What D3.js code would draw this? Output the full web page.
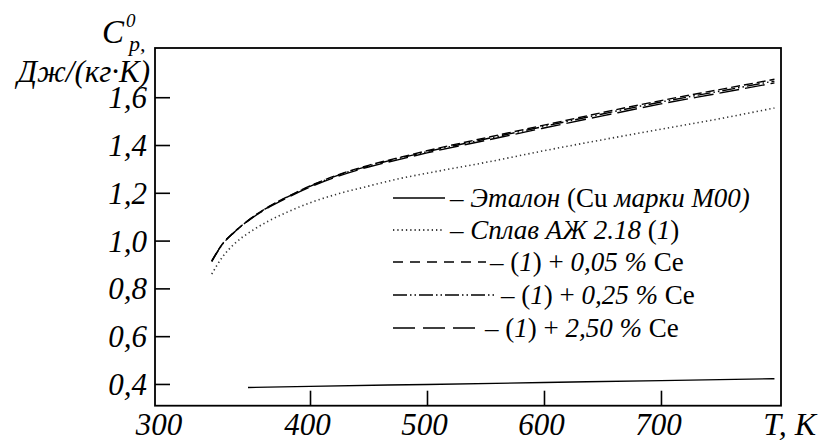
<!DOCTYPE html>
<html>
<head>
<meta charset="utf-8">
<script src="https://cdn.jsdelivr.net/npm/d3@7"></script>
<style>
  body { margin: 0; background: #fff; }
  svg text { font-family: "Liberation Serif", Tinos, "Times New Roman", serif; fill: #000; }
</style>
</head>
<body>
<svg id="chart" width="818" height="440"></svg>
<script>
// temperatures, K
const temps = [316, 325, 335, 350, 365, 380, 400, 425, 450, 475, 500, 550, 600, 650, 700, 750, 797];
// specific heat, J/(kg K)
const alloyBase = [0.860, 0.930, 0.985, 1.040, 1.083, 1.118, 1.158, 1.197, 1.228, 1.258, 1.282, 1.327, 1.376, 1.422, 1.466, 1.510, 1.555];
const alloyCe005 = [0.915, 0.985, 1.035, 1.095, 1.143, 1.182, 1.229, 1.277, 1.315, 1.346, 1.376, 1.430, 1.483, 1.536, 1.586, 1.632, 1.675];
const alloyCe025 = [0.912, 0.983, 1.034, 1.094, 1.142, 1.181, 1.227, 1.275, 1.312, 1.343, 1.372, 1.425, 1.478, 1.530, 1.580, 1.625, 1.668];
const alloyCe250 = [0.914, 0.984, 1.034, 1.093, 1.140, 1.178, 1.224, 1.271, 1.308, 1.338, 1.367, 1.419, 1.471, 1.522, 1.572, 1.617, 1.660];
const cuTemps = [347, 400, 500, 600, 700, 797];
const cuRef = [0.385, 0.390, 0.398, 0.406, 0.414, 0.422];

const yTicks = [0.4, 0.6, 0.8, 1.0, 1.2, 1.4, 1.6];
const xTicks = [400, 500, 600, 700];
const xFirstLabel = "300";

const svg = d3.select("#chart");
const plotL = 155, plotR = 781, plotT = 48, plotB = 405.7;

const x = d3.scaleLinear().domain([267.5, 802.6]).range([plotL, plotR]);
const y = d3.scaleLinear().domain([0.309, 1.806]).range([plotB, plotT]);

const serif = "'Liberation Serif', Tinos, 'Times New Roman', serif";
const fontSize = 31;

// frame
svg.append("rect")
  .attr("x", plotL).attr("y", plotT)
  .attr("width", plotR - plotL).attr("height", plotB - plotT)
  .attr("fill", "none").attr("stroke", "#000").attr("stroke-width", 1.8);

const yAxis = svg.append("g")
  .attr("transform", `translate(${plotL},0)`)
  .call(d3.axisLeft(y).tickValues(yTicks).tickSize(-15).tickPadding(8)
    .tickFormat(d => d.toFixed(1).replace(".", ",")));

const xAxis = svg.append("g")
  .attr("transform", `translate(0,${plotB})`)
  .call(d3.axisBottom(x).tickValues(xTicks).tickSize(-15).tickPadding(0)
    .tickFormat(d => String(d)));

[yAxis, xAxis].forEach(g => {
  g.attr("font-family", null);
  g.select(".domain").remove();
  g.selectAll("line").attr("stroke", "#000").attr("stroke-width", 1.6);
  g.selectAll("text")
    .style("font-family", serif)
    .style("font-style", "italic")
    .attr("font-size", fontSize);
});
yAxis.selectAll("text").attr("dy", "0.34em");
xAxis.selectAll("text").attr("y", 0).attr("dy", 29).attr("dx", -3);

svg.append("text")
  .attr("x", plotL + 4).attr("y", plotB + 29)
  .attr("text-anchor", "middle")
  .style("font-family", serif)
  .style("font-style", "italic").attr("font-size", fontSize)
  .text(xFirstLabel);

svg.append("text")
  .attr("x", 816).attr("y", plotB + 29)
  .attr("text-anchor", "end")
  .style("font-family", serif)
  .style("font-style", "italic").attr("font-size", 32)
  .text("T, K");

// y title
const yt = svg.append("text").style("font-family", serif).style("font-style", "italic");
yt.append("tspan").attr("x", 102).attr("y", 43).attr("font-size", 33).text("C");
yt.append("tspan").attr("x", 126).attr("y", 27).attr("font-size", 19).text("0");
yt.append("tspan").attr("x", 129).attr("y", 51).attr("font-size", 22).text("p,");
svg.append("text")
  .attr("x", 150).attr("y", 82).attr("text-anchor", "end")
  .style("font-family", serif)
  .style("font-style", "italic").attr("font-size", 31)
  .text("Дж/(кг·К)");

// curves
const line = d3.line()
  .x(d => x(d[0]))
  .y(d => y(d[1]))
  .curve(d3.curveMonotoneX);

const series = [
  { t: temps, v: alloyBase, dash: "1.3,3", width: 1.6, color: "#333" },
  { t: temps, v: alloyCe005, dash: "9,4", width: 1.4, color: "#000" },
  { t: temps, v: alloyCe025, dash: "13,3,1.5,3,1.5,3", width: 1.4, color: "#000" },
  { t: temps, v: alloyCe250, dash: "20,6", width: 1.4, color: "#000" },
  { t: cuTemps, v: cuRef, dash: null, width: 1.4, color: "#000" }
];

svg.selectAll("path.curve")
  .data(series)
  .enter()
  .append("path")
  .attr("class", "curve")
  .attr("d", s => line(s.t.map((t, i) => [t, s.v[i]])))
  .attr("fill", "none")
  .attr("stroke", s => s.color)
  .attr("stroke-width", s => s.width)
  .attr("stroke-dasharray", s => s.dash);

// legend
const legendRows = [
  { dash: null, x2: 445, tx: 450, width: 1.4,
    parts: [["– ", false], ["Эталон", true], [" (Cu ", false], ["марки М00)", true]] },
  { dash: "1.3,3", x2: 443, tx: 450, width: 1.6,
    parts: [["– Сплав АЖ 2.18 ", true], ["(", false], ["1", true], [")", false]] },
  { dash: "10,7", x2: 486, tx: 490, width: 1.4,
    parts: [["– ", false], ["(", false], ["1", true], [") + ", false], ["0,05 %", true], [" Ce", false]] },
  { dash: "14,3,1.5,3,1.5,3", x2: 497, tx: 501, width: 1.4,
    parts: [["– ", false], ["(", false], ["1", true], [") + ", false], ["0,25 %", true], [" Ce", false]] },
  { dash: "22,8", x2: 481, tx: 485, width: 1.4,
    parts: [["– ", false], ["(", false], ["1", true], [") + ", false], ["2,50 %", true], [" Ce", false]] }
];
const rowY = [198, 230, 262, 295, 328];

const rows = svg.selectAll("g.legend")
  .data(legendRows)
  .enter()
  .append("g")
  .attr("class", "legend")
  .attr("transform", (d, i) => `translate(0,${rowY[i]})`);

rows.append("line")
  .attr("x1", 393).attr("x2", d => d.x2)
  .attr("y1", 0).attr("y2", 0)
  .attr("stroke", "#000")
  .attr("stroke-width", d => d.width)
  .attr("stroke-dasharray", d => d.dash);

rows.append("text")
  .attr("x", d => d.tx).attr("y", 9)
  .attr("font-size", 27)
  .style("font-family", serif)
  .style("white-space", "pre")
  .selectAll("tspan")
  .data(d => d.parts)
  .enter()
  .append("tspan")
  .style("font-style", p => p[1] ? "italic" : "normal")
  .text(p => p[0]);
</script>
</body>
</html>
